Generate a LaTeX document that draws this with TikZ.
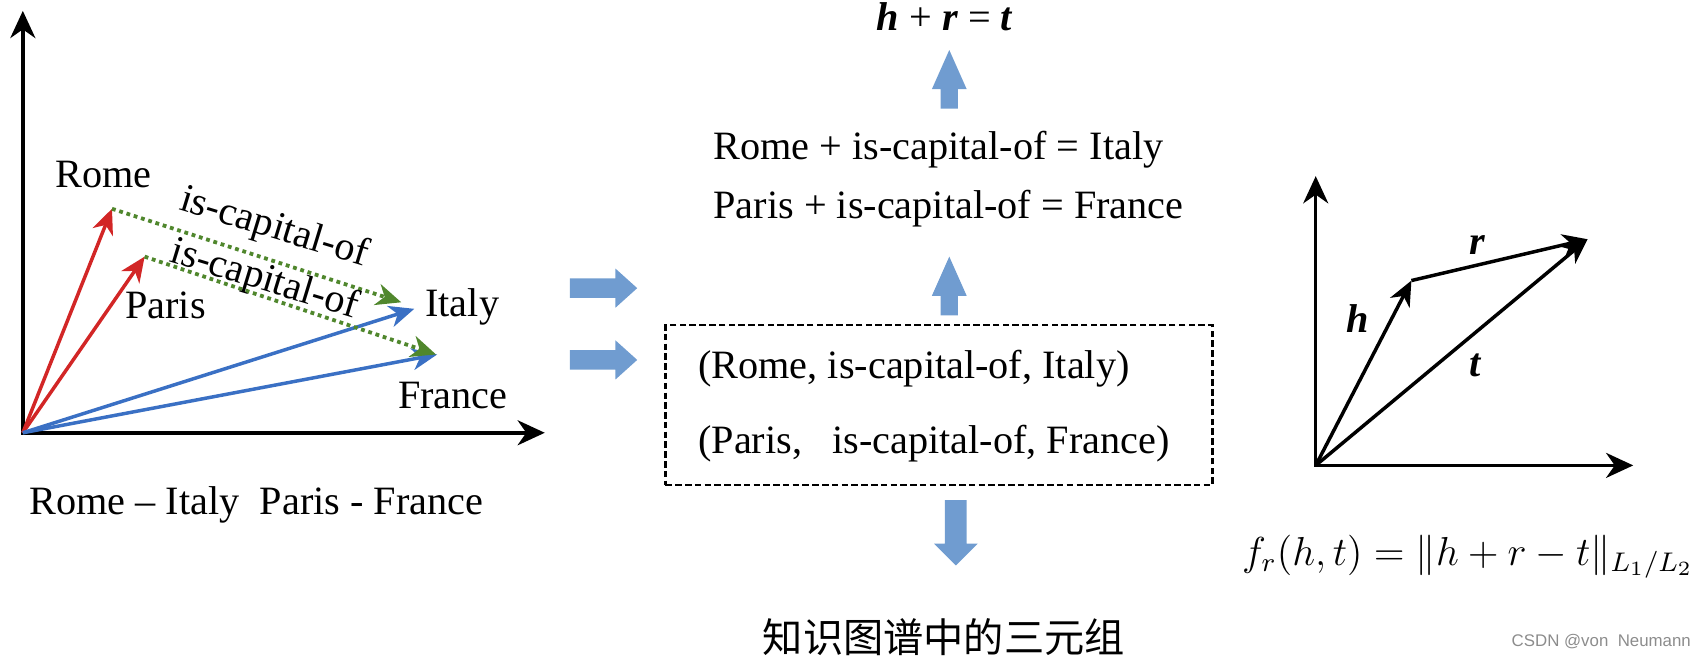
\documentclass[tikz,border=0pt]{standalone}
\usepackage{graphicx}
\usepackage{fontspec}
\setmainfont{Liberation Serif}
\newfontfamily\cjkfont{Noto Sans CJK SC}
\newfontfamily\wmfont{Liberation Sans}
\usetikzlibrary{arrows.meta}
\definecolor{vred}{RGB}{210,38,38}
\definecolor{vblue}{RGB}{58,112,196}
\definecolor{vgreen}{RGB}{80,135,45}
\definecolor{barrow}{RGB}{112,156,208}
\begin{document}
\begin{tikzpicture}[x=1pt,y=-1pt,
  txt/.style={inner sep=0pt, font=\fontsize{37}{40}\selectfont},
  axes/.style={line width=3.2pt, {Stealth[length=25pt,width=23pt,inset=8pt]}-{Stealth[length=25pt,width=23pt,inset=8pt]}},
  vec/.style={line width=3.2pt, -{Stealth[length=23pt,width=20pt,inset=7pt]}},
  rel/.style={vgreen, line width=3.5pt, dash pattern=on 3.5pt off 3.5pt, -{Stealth[length=23pt,width=20pt,inset=7pt]}},
  rarrow/.pic={\fill[barrow] (-31,-9) -- (11,-9) -- (11,-18) -- (31,0) -- (11,18) -- (11,9) -- (-31,9) -- cycle;},
  uarrow/.pic={\fill[barrow] (-8,27) -- (-8,9) -- (-16,9) -- (0,-27) -- (16,9) -- (8,9) -- (8,27) -- cycle;},
  darrow/.pic={\fill[barrow] (-10,-30) -- (-10,10) -- (-20,10) -- (0,30) -- (20,10) -- (10,10) -- (10,-30) -- cycle;}
]
\useasboundingbox (0,0) rectangle (1568,608);

% ---------- left panel ----------
\coordinate (O) at (21,398);
\coordinate (Y) at (21,10);
\coordinate (X) at (501,398);
\coordinate (rome) at (103,192);
\coordinate (paris) at (133,236);
\coordinate (italy) at (381,284);
\coordinate (france) at (402,326);
\coordinate (g1) at (369,278);
\coordinate (g2) at (401,326);

\draw[axes] (Y) -- (O) -- (X);
\draw[vec, vred] (O) -- (rome);
\draw[vec, vred] (O) -- (paris);
\draw[vec, vblue] (O) -- (italy);
\draw[vec, vblue] (O) -- (france);
\draw[rel] (rome) -- (g1);
\draw[rel] (paris) -- (g2);

\node[txt, anchor=base west] (lrome) at (51,172) {Rome};
\node[txt, anchor=base west] (lparis) at (115,293) {Paris};
\node[txt, anchor=base west] (litaly) at (391,291) {Italy};
\node[txt, anchor=base west] (lfrance) at (366,376) {France};
\node[txt, rotate=-17] (rel1) at (252,210) {is-capital-of};
\node[txt, rotate=-17] (rel2) at (243,258) {is-capital-of};
\node[txt, anchor=base west] (pairs) at (27,473) {Rome – Italy\ \ Paris - France};

% ---------- middle ----------
\pic at (555,265) {rarrow};
\pic at (555,331) {rarrow};
\node[draw, line width=2pt, dash pattern=on 6pt off 3pt, minimum width=503pt, minimum height=147pt, inner sep=0pt] (box) at (863.5,372.5) {};
\node[txt, anchor=base west] (t1) at (642,348) {(Rome, is-capital-of, Italy)};
\node[txt, anchor=base west] (t2) at (642,417) {(Paris,\hspace{0.75em}is-capital-of, France)};
\pic at (873,263) {uarrow};
\node[txt, anchor=base west] (eq1) at (656,147) {Rome + is-capital-of = Italy};
\node[txt, anchor=base west] (eq2) at (656,201) {Paris + is-capital-of = France};
\pic at (873,73) {uarrow};
\node[txt, anchor=base] (hrt) at (869,28) {\textbf{\textit{h}} + \textbf{\textit{r}} = \textbf{\textit{t}}};
\pic at (879,490) {darrow};
\node[inner sep=0pt, font=\cjkfont\fontsize{37}{40}\selectfont] (cn) at (868,586) {知识图谱中的三元组};

% ---------- right panel ----------
\coordinate (O2) at (1210,428);
\coordinate (Y2) at (1210,162);
\coordinate (X2) at (1502,428);
\coordinate (H) at (1298,258);
\coordinate (T) at (1460,220);
\draw[axes] (Y2) -- (O2) -- (X2);
\draw[vec] (O2) -- (H);
\draw[vec] (H) -- (T);
\draw[vec] (O2) -- (T);
\node[txt] (lh) at (1249,293) {\textbf{\textit{h}}};
\node[txt] (lr) at (1359,225) {\textbf{\textit{r}}};
\node[txt] (lt) at (1357,336) {\textbf{\textit{t}}};
\node[inner sep=0pt, anchor=base west] (fr) at (1142,520) {\scalebox{3.1}{\fontsize{12}{14}\selectfont$f_r(h,t) = \|h + r - t\|_{L_1/L_2}$}};
\node[inner sep=0pt, anchor=base west, text=black!45, font=\wmfont\fontsize{15.5}{18}\selectfont] (wm) at (1390,595) {CSDN @von\ \ Neumann};
\end{tikzpicture}
\end{document}
